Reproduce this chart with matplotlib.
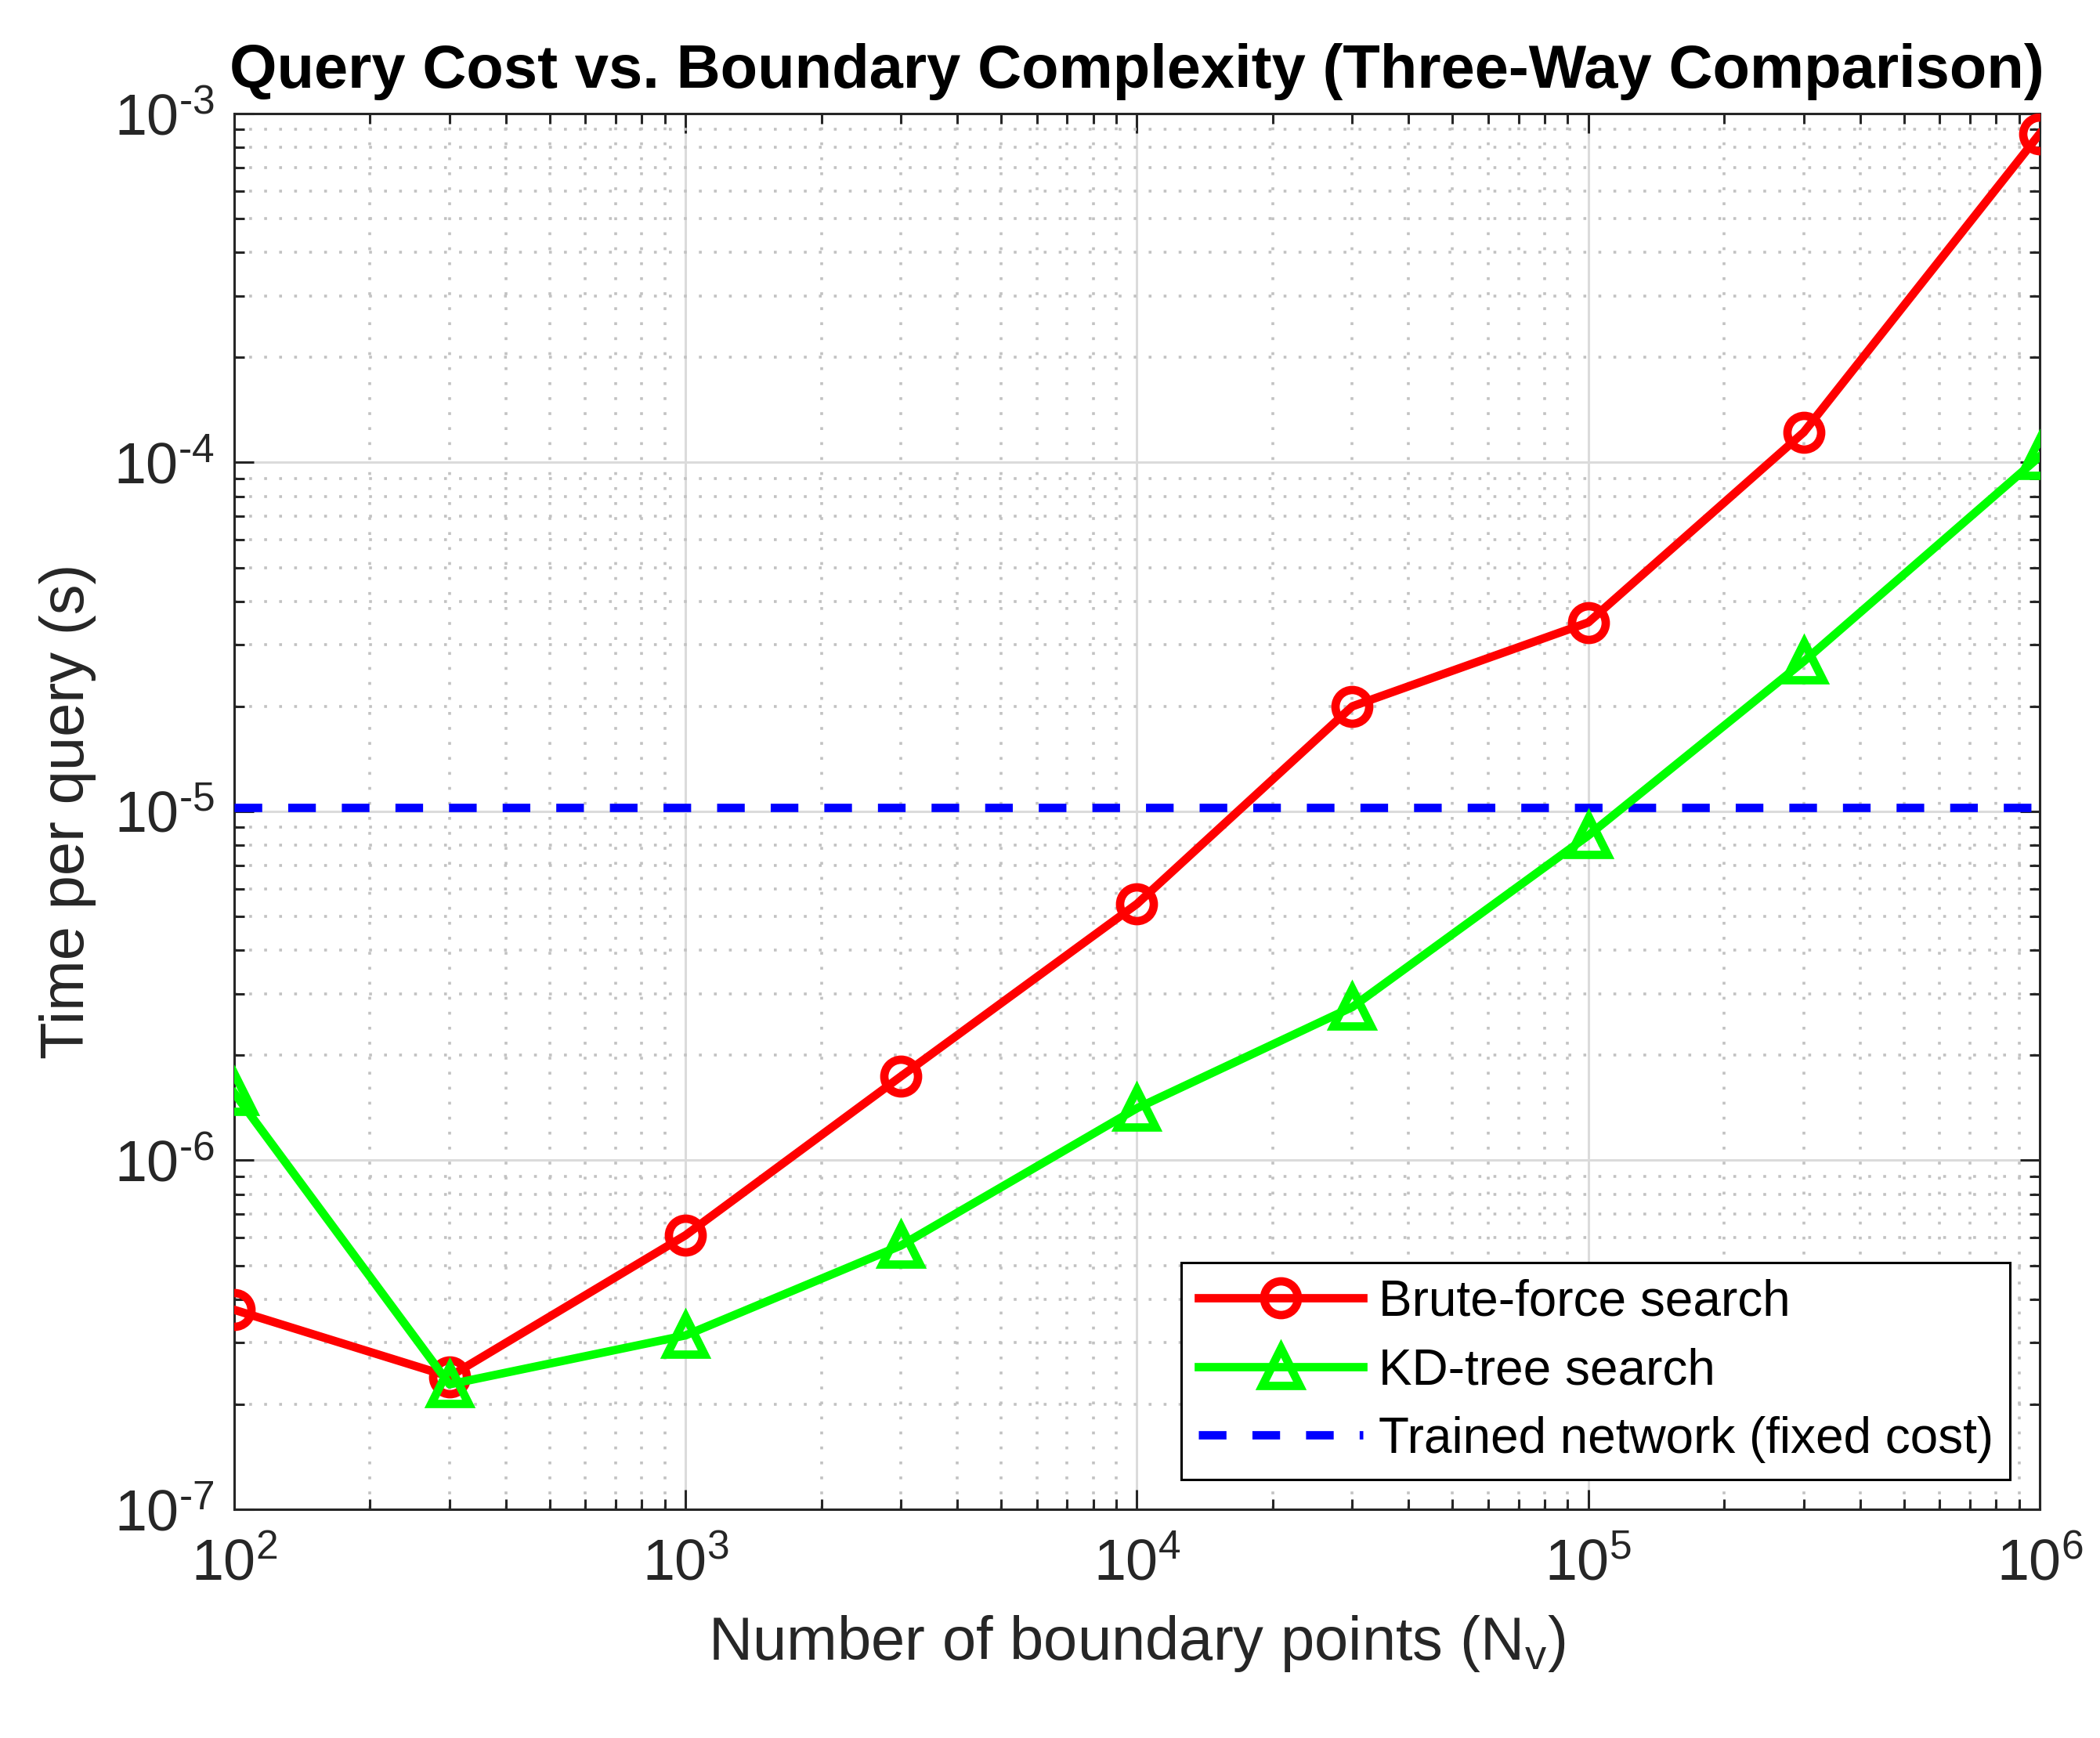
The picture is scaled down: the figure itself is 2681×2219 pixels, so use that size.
import matplotlib
matplotlib.use('Agg')
import math
import matplotlib.pyplot as plt
from matplotlib.ticker import LogLocator, NullFormatter, FuncFormatter

# values
n_points = [1e2, 3e2, 1e3, 3e3, 1e4, 3e4, 1e5, 3e5, 1e6]
brute_force = [3.73e-7, 2.4e-7, 6.1e-7, 1.74e-6, 5.43e-6, 2.0e-5, 3.48e-5, 1.22e-4, 8.75e-4]
kd_tree = [1.56e-6, 2.28e-7, 3.15e-7, 5.7e-7, 1.41e-6, 2.75e-6, 8.53e-6, 2.69e-5, 1.04e-4]
network_cost = 1.026e-5
labels = ['Brute-force search', 'KD-tree search', 'Trained network (fixed cost)']

plt.rcParams['font.family'] = ['Liberation Sans', 'DejaVu Sans']
plt.rcParams['mathtext.fontset'] = 'custom'
plt.rcParams['mathtext.rm'] = 'Liberation Sans'
plt.rcParams['mathtext.it'] = 'Liberation Sans:italic'
plt.rcParams['mathtext.bf'] = 'Liberation Sans:bold'
plt.rcParams['axes.unicode_minus'] = False

dark = (0.15, 0.15, 0.15)
lw = 3.85


def pow10(v, pos):
    e = int(round(math.log10(v)))
    s = str(abs(e))
    if e < 0:
        s = '\u2010' + s  # plain hyphen like matlab, not a minus
    return '$\\mathdefault{10^{' + s + '}}$'


fig = plt.figure(figsize=(13.405, 11.095), dpi=200)
ax = fig.add_axes([0.1115, 0.1316, 0.9713 - 0.1115, 0.9347 - 0.1316])

ax.plot(n_points, brute_force, color=(1, 0, 0), lw=lw, marker='o', ms=15.5,
        mfc='none', mew=lw, label=labels[0], zorder=4)
ax.plot(n_points, kd_tree, color=(0, 1, 0), lw=lw, marker='^', ms=17,
        mfc='none', mew=lw, label=labels[1], zorder=4)
ax.plot([n_points[0], n_points[-1]], [network_cost, network_cost], color=(0, 0, 1),
        lw=lw, ls=(0, (3.3, 3.1)), dash_capstyle='butt', label=labels[2], zorder=3)

ax.set_xscale('log')
ax.set_yscale('log')
ax.set_xlim(1e2, 1e6)
ax.set_ylim(1e-7, 1e-3)

ax.xaxis.set_minor_locator(LogLocator(base=10, subs=range(2, 10), numticks=20))
ax.yaxis.set_minor_locator(LogLocator(base=10, subs=range(2, 10), numticks=20))
ax.xaxis.set_minor_formatter(NullFormatter())
ax.yaxis.set_minor_formatter(NullFormatter())
ax.xaxis.set_major_formatter(FuncFormatter(pow10))
ax.yaxis.set_major_formatter(FuncFormatter(pow10))

ax.grid(which='major', color=(0.86, 0.86, 0.86), lw=1.1, ls='-', zorder=0)
ax.grid(which='minor', color=(0.76, 0.76, 0.76), lw=1.3, ls=(0, (1, 4.3)), zorder=0)
ax.set_axisbelow(True)

ax.tick_params(which='both', direction='in', top=True, right=True, colors=dark,
               width=1.1, labelsize=26.5)
ax.tick_params(which='major', length=9, pad=9)
ax.tick_params(axis='x', which='major', pad=13)
ax.tick_params(which='minor', length=4.7)
for s in ax.spines.values():
    s.set_linewidth(1.1)
    s.set_color(dark)

ax.set_xlabel('Number of boundary points (N$_\\mathregular{v}$)', fontsize=28, color=dark, labelpad=10)
ax.set_ylabel('Time per query (s)', fontsize=28, color=dark, labelpad=8)
ax.set_title('Query Cost vs. Boundary Complexity (Three-Way Comparison)',
             fontsize=28, fontweight='bold', pad=12)

leg = ax.legend(loc='lower right', fontsize=23, handlelength=3.3, labelspacing=0.43,
                borderaxespad=0.6, fancybox=False, framealpha=1, edgecolor='black',
                handletextpad=0.3, borderpad=0.33)
leg.get_frame().set_linewidth(1.1)

fig.savefig('out.png', dpi=200)
